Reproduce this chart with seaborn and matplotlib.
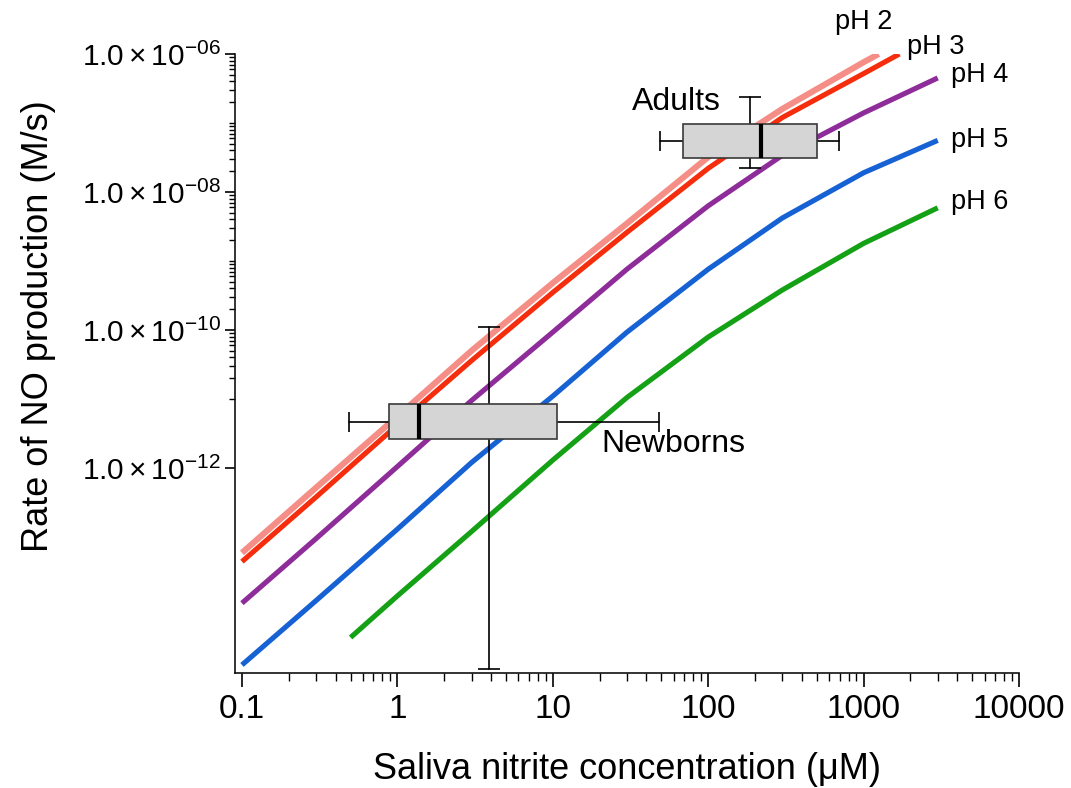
import matplotlib
matplotlib.use("Agg")
import numpy as np
import pandas as pd
import matplotlib.pyplot as plt
from matplotlib import font_manager
from matplotlib.patches import Rectangle
from matplotlib.ticker import FixedLocator, FixedFormatter, NullFormatter
import seaborn as sns

# ---- model curves: rate of NO production vs saliva nitrite, one per pH ----
conc_ph2 = [0.1, 0.3, 1, 3, 10, 30, 100, 300, 1000, 1250]
conc_ph3 = [0.1, 0.3, 1, 3, 10, 30, 100, 300, 1000, 1700]
conc_ph4 = [0.1, 0.3, 1, 3, 10, 30, 100, 300, 1000, 3000]
conc_ph5 = [0.1, 0.3, 1, 3, 10, 30, 100, 300, 1000, 3000]
conc_ph6 = [0.5, 1, 3, 10, 30, 100, 300, 1000, 3000]

rate_ph2 = [5.9e-14, 5.2e-13, 5.6e-12, 5.0e-11, 4.8e-10, 3.5e-9, 3.2e-8, 1.6e-7, 7.6e-7, 1.0e-6]
rate_ph3 = [4.4e-14, 3.8e-13, 4.2e-12, 3.6e-11, 3.5e-10, 2.6e-9, 2.2e-8, 1.2e-7, 5.2e-7, 1.0e-6]
rate_ph4 = [1.1e-14, 9.5e-14, 1.05e-12, 9.5e-12, 9.3e-11, 7.6e-10, 6.3e-9, 3.4e-8, 1.4e-7, 4.5e-7]
rate_ph5 = [1.4e-15, 1.2e-14, 1.3e-13, 1.2e-12, 1.1e-11, 9.3e-11, 7.6e-10, 4.2e-9, 1.9e-8, 5.6e-8]
rate_ph6 = [3.5e-15, 1.4e-14, 1.2e-13, 1.3e-12, 1.05e-11, 7.9e-11, 3.8e-10, 1.8e-9, 5.9e-9]

ph_labels = ["pH 2", "pH 3", "pH 4", "pH 5", "pH 6"]
ph_colors = ["#f58e86", "#f52d0c", "#8e2c9a", "#1661d3", "#15a115"]

# ---- measured ranges (whisker low, Q1, median, Q3, whisker high) ----
newborn_conc = [0.49, 0.88, 1.37, 10.6, 48.0]
newborn_rate_mid = 4.7e-12
newborn_rate_x = 3.9
newborn_rate_range = [1.23e-15, 1.1e-10]

adult_conc = [48.7, 68.6, 218.0, 499.0, 690.0]
adult_rate_mid = 5.5e-8
adult_rate_x = 185.0
adult_rate_range = [2.2e-8, 2.4e-7]

group_labels = ["Newborns", "Adults"]

# ---- styling ----
sns.set_style("ticks")
plt.rcParams["font.family"] = ["Liberation Sans", "DejaVu Sans"]
plt.rcParams["mathtext.fontset"] = "custom"
plt.rcParams["mathtext.rm"] = "Liberation Sans"
plt.rcParams["mathtext.it"] = "Liberation Sans:italic"
plt.rcParams["mathtext.bf"] = "Liberation Sans:bold"
for key in ("text.color", "axes.labelcolor", "xtick.color", "ytick.color", "axes.edgecolor"):
    plt.rcParams[key] = "black"

available = {f.name for f in font_manager.fontManager.ttflist}
if "Liberation Sans Narrow" in available:
    xtick_family, xtick_size = "Liberation Sans Narrow", 28
else:
    xtick_family, xtick_size = "Liberation Sans", 24

frames = []
for lab, xs, ys in zip(ph_labels,
                       [conc_ph2, conc_ph3, conc_ph4, conc_ph5, conc_ph6],
                       [rate_ph2, rate_ph3, rate_ph4, rate_ph5, rate_ph6]):
    frames.append(pd.DataFrame({"conc": xs, "rate": ys, "pH": lab}))
df = pd.concat(frames, ignore_index=True)

fig = plt.figure(figsize=(10.71, 7.88), dpi=100)
ax = fig.add_axes([235 / 1071, 1 - 673 / 788, 784 / 1071, 619 / 788])
ax.set_xscale("log")
ax.set_yscale("log")

sns.lineplot(data=df, x="conc", y="rate", hue="pH", hue_order=ph_labels,
             palette=dict(zip(ph_labels, ph_colors)), estimator=None,
             sort=False, legend=False, ax=ax, linewidth=3.7, zorder=2)
ax.lines[0].set_linewidth(4.4)
for ln in ax.lines:
    ln.set_solid_capstyle("butt")
    ln.set_solid_joinstyle("round")

ax.set_xlim(0.0902, 10000)
ax.set_ylim(1.07e-15, 1e-6)

# curve labels at the end of each line
label_offsets = [(-44, 32), (8, 7), (13, 3), (13, 0), (13, 6)]
for lab, xs, ys, off in zip(ph_labels,
                            [conc_ph2, conc_ph3, conc_ph4, conc_ph5, conc_ph6],
                            [rate_ph2, rate_ph3, rate_ph4, rate_ph5, rate_ph6],
                            label_offsets):
    ax.annotate(lab, xy=(xs[-1], ys[-1]), xytext=off, textcoords="offset pixels",
                ha="left", va="center", fontsize=19.5, annotation_clip=False)

# box summaries: concentration spread (box) and rate spread (vertical bar)
BOX_HALF_DECADES = 0.25
def draw_box(stats, y_mid, rate_x, rate_rng):
    lo, q1, med, q3, hi = stats
    f = 10 ** BOX_HALF_DECADES
    ax.plot([rate_x, rate_x], rate_rng, color="black", lw=1.2, zorder=4)
    ax.plot([rate_x, rate_x], rate_rng, ls="none", marker="_", ms=16, mew=1.2,
            color="black", zorder=4)
    ax.plot([lo, hi], [y_mid, y_mid], color="black", lw=1.2, zorder=4)
    ax.plot([lo, hi], [y_mid, y_mid], ls="none", marker="|", ms=15, mew=1.2,
            color="black", zorder=4)
    ax.add_patch(Rectangle((q1, y_mid / f), q3 - q1, y_mid * f - y_mid / f,
                           facecolor="#d5d5d5", edgecolor="#3a3a3a", lw=1.2, zorder=5))
    ax.plot([med, med], [y_mid / f, y_mid * f], color="black", lw=3.0,
            solid_capstyle="butt", zorder=6)

draw_box(newborn_conc, newborn_rate_mid, newborn_rate_x, newborn_rate_range)
draw_box(adult_conc, adult_rate_mid, adult_rate_x, adult_rate_range)

ax.annotate(group_labels[0], xy=(newborn_conc[-1], newborn_rate_mid), xytext=(-57, -22),
            textcoords="offset pixels", ha="left", va="center", fontsize=23)
ax.annotate(group_labels[1], xy=(adult_rate_x, adult_rate_mid), xytext=(-29, 39),
            textcoords="offset pixels", ha="right", va="center", fontsize=23)

# axes and ticks
sns.despine(ax=ax)
for side in ("left", "bottom"):
    ax.spines[side].set_linewidth(1.2)
    ax.spines[side].set_color("#111111")

x_major = [0.1, 1, 10, 100, 1000, 10000]
x_major_labels = ["0.1", "1", "10", "100", "1000", "10000"]
ax.xaxis.set_major_locator(FixedLocator(x_major))
ax.xaxis.set_major_formatter(FixedFormatter(x_major_labels))
x_minor = [m * 10.0 ** e for e in range(-1, 4) for m in range(2, 10)]
ax.xaxis.set_minor_locator(FixedLocator(x_minor))
ax.xaxis.set_minor_formatter(NullFormatter())

y_major = [1e-12, 1e-10, 1e-8, 1e-6]
y_major_labels = [r"$\mathregular{1.0\times10^{-12}}$", r"$\mathregular{1.0\times10^{-10}}$",
                  r"$\mathregular{1.0\times10^{-08}}$", r"$\mathregular{1.0\times10^{-06}}$"]
ax.yaxis.set_major_locator(FixedLocator(y_major))
ax.yaxis.set_major_formatter(FixedFormatter(y_major_labels))
y_minor = [m * 10.0 ** e for e in range(-11, -6) for m in range(1, 10)]
y_minor = [v for v in y_minor if v not in (1e-10, 1e-8)]
ax.yaxis.set_minor_locator(FixedLocator(y_minor))
ax.yaxis.set_minor_formatter(NullFormatter())

ax.tick_params(axis="x", which="major", length=10, width=1.2, pad=5, colors="black")
ax.tick_params(axis="x", which="minor", length=6, width=1.0, colors="black")
ax.tick_params(axis="y", which="major", length=7, width=1.2, pad=3, colors="black",
               labelsize=21.5)
ax.tick_params(axis="y", which="minor", length=4, width=1.0, colors="black")
for t in ax.get_xticklabels():
    t.set_fontfamily(xtick_family)
    t.set_fontsize(xtick_size)

ax.set_xlabel("Saliva nitrite concentration (\u03bcM)", fontsize=26)
ax.set_ylabel("Rate of NO production (M/s)", fontsize=26)
ax.xaxis.set_label_coords(0.5, -0.128)
ax.yaxis.set_label_coords(-0.228, 0.56)

fig.savefig("out.png", dpi=100, facecolor="white")
